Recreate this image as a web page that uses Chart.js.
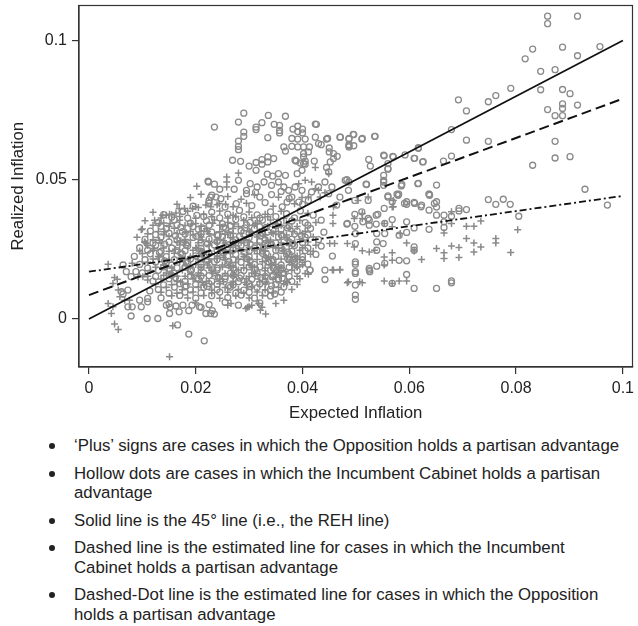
<!DOCTYPE html>
<html lang="en">
  <head>
    <meta charset="UTF-8" />
    <title>Expected vs Realized Inflation</title>
    <script src="https://cdn.jsdelivr.net/npm/chart.js"></script>
    <style>
      body { margin: 0; background: #fff; font-family: "Liberation Sans", Arial, sans-serif; color: #222; }
      #wrap { width: 638px; }
      canvas { display: block; }
      ul { list-style: none; margin: 8px 0 0 0; padding: 0; font-size: 16.8px; line-height: 19.5px; white-space: nowrap; }
      li { position: relative; padding-left: 74px; margin-bottom: 8px; }
      li::before { content: ""; position: absolute; left: 49px; top: 7px; width: 6px; height: 6px; border-radius: 50%; background: #222; }
    </style>
  </head>
  <body>
    <div id="wrap">
      <canvas id="chart" width="638" height="428"></canvas>
      <ul>
        <li>‘Plus’ signs are cases in which the Opposition holds a partisan advantage</li>
        <li>Hollow dots are cases in which the Incumbent Cabinet holds a partisan<br>advantage</li>
        <li>Solid line is the 45° line (i.e., the REH line)</li>
        <li>Dashed line is the estimated line for cases in which the Incumbent<br>Cabinet holds a partisan advantage</li>
        <li>Dashed-Dot line is the estimated line for cases in which the Opposition<br>holds a partisan advantage</li>
      </ul>
    </div>

    <script>
      // axis ticks
      const xTicks = [0, 0.02, 0.04, 0.06, 0.08, 0.1];
      const yTicks = [0, 0.05, 0.1];

      // fitted lines, endpoints at x = 0 and x = 0.1
      const lineX = [0, 0.1];
      const rehY = [0, 0.1];
      const incumbentFitY = [0.0086, 0.0791];
      const oppositionFitY = [0.017, 0.0442];

      // Opposition advantage ('plus'), [expected %, realized %]
      const plusPts = [
        // main cloud
        [1.9,4.36],[2.1,4.48],[2.6,4.4],[2.85,4.3],[3.1,4.46],[3.55,4.37],
        [1.65,4.12],[2.05,4.0],[2.4,4.1],[2.7,4.03],[2.95,4.16],[3.45,4.05],[3.85,4.14],
        [1.2,3.83],[1.55,3.74],[1.85,3.87],[2.15,3.76],[2.45,3.88],[2.7,3.73],[3.0,3.84],[3.3,3.76],[3.6,3.87],[4.1,3.8],
        [1.05,3.53],[1.4,3.45],[1.7,3.55],[2.0,3.43],[2.35,3.56],[2.6,3.47],[2.9,3.54],[3.15,3.44],[3.4,3.56],[3.7,3.45],[3.95,3.54],[4.25,3.47],
        [1.0,3.23],[1.3,3.14],[1.6,3.26],[1.9,3.15],[2.2,3.24],[2.45,3.13],[2.7,3.25],[3.0,3.15],[3.25,3.23],[3.5,3.14],[3.75,3.26],[4.05,3.15],
        [0.9,2.94],[1.2,2.85],[1.5,2.96],[1.8,2.86],[2.1,2.95],[2.4,2.84],[2.65,2.93],[2.9,2.86],[3.15,2.95],[3.4,2.84],[3.7,2.93],[3.95,2.86],[4.2,2.95],
        [1.1,2.64],[1.4,2.55],[1.7,2.66],[2.0,2.56],[2.25,2.65],[2.5,2.54],[2.75,2.63],[3.0,2.56],[3.25,2.66],[3.5,2.55],[3.75,2.64],[4.0,2.56],[4.25,2.65],
        [1.0,2.35],[1.3,2.25],[1.6,2.36],[1.9,2.24],[2.15,2.33],[2.4,2.26],[2.65,2.35],[2.9,2.25],[3.15,2.34],[3.4,2.24],[3.65,2.36],[3.9,2.26],[4.15,2.33],
        [1.1,2.04],[1.4,1.95],[1.7,2.06],[2.0,1.96],[2.25,2.05],[2.5,1.94],[2.75,2.03],[3.0,1.95],[3.25,2.06],[3.5,1.96],[3.75,2.04],[4.0,1.95],
        [1.15,1.74],[1.45,1.65],[1.75,1.76],[2.05,1.65],[2.3,1.74],[2.55,1.64],[2.8,1.76],[3.05,1.65],[3.3,1.73],[3.55,1.66],[3.8,1.75],[4.05,1.64],
        [1.35,1.44],[1.65,1.35],[1.95,1.46],[2.2,1.35],[2.45,1.44],[2.7,1.36],[2.95,1.45],[3.2,1.34],[3.45,1.43],[3.7,1.36],[3.95,1.45],
        [1.45,1.14],[1.75,1.05],[2.05,1.15],[2.3,1.04],[2.55,1.13],[2.8,1.06],[3.05,1.15],[3.3,1.05],[3.55,1.14],[3.8,1.06],
        [1.55,0.84],[1.85,0.76],[2.15,0.85],[2.45,0.75],[2.75,0.84],[3.0,0.76],[3.25,0.85],
        [2.0,0.58],[2.6,0.5],[3.5,0.56],
        [2.1,3.04],[2.7,3.07],[3.3,3.02],[1.8,2.76],[2.4,2.73],[3.0,2.77],[3.6,2.74],
        [2.1,2.44],[2.7,2.46],[3.3,2.43],[1.8,2.14],[2.4,2.17],[3.0,2.13],[3.6,2.16],
        [2.1,1.84],[2.7,1.87],[3.3,1.83],[1.8,1.54],[2.4,1.56],[3.0,1.53],[3.6,1.55],[2.7,1.24],[3.3,1.26],
        // denser core
        [1.35,3.63],[1.7,3.68],[2.0,3.62],[2.3,3.67],[2.6,3.63],[2.75,3.68],[3.05,3.64],[3.35,3.67],[3.65,3.62],
        [1.2,3.37],[1.5,3.32],[1.8,3.36],[2.1,3.33],[2.45,3.37],[2.8,3.32],[3.1,3.37],[3.35,3.33],[3.6,3.37],[3.9,3.32],
        [1.1,3.06],[1.4,3.03],[1.65,3.07],[1.95,3.02],[2.25,3.06],[2.55,3.04],[2.85,3.07],[3.15,3.03],[3.45,3.06],[3.7,3.02],[4.0,3.06],
        [1.05,2.76],[1.35,2.73],[1.65,2.77],[2.05,2.74],[2.25,2.78],[2.55,2.73],[2.85,2.76],[3.15,2.73],[3.4,2.77],[3.85,2.74],[4.1,2.77],
        [0.95,2.44],[1.2,2.47],[1.5,2.43],[1.95,2.47],[2.25,2.44],[2.55,2.46],[2.85,2.43],[3.1,2.47],[3.65,2.44],[3.95,2.47],[4.2,2.43],
        [1.2,2.16],[1.5,2.13],[1.75,2.17],[2.05,2.13],[2.25,2.16],[2.55,2.13],[2.8,2.16],[3.15,2.14],[3.35,2.17],[3.9,2.14],
        [1.25,1.86],[1.55,1.83],[1.9,1.87],[2.25,1.84],[2.5,1.87],[2.9,1.84],[3.1,1.86],[3.6,1.83],[3.9,1.87],
        [1.1,1.54],[1.4,1.57],[1.65,1.54],[2.05,1.57],[2.7,1.54],[3.3,1.57],[3.9,1.54],
        [1.25,1.26],[1.55,1.23],[1.85,1.26],[2.15,1.23],[2.45,1.27],[2.95,1.24],[3.65,1.27],[3.9,1.24],
        [1.35,0.96],[1.65,0.93],[1.95,0.97],[2.3,0.94],[2.6,0.96],[2.9,0.93],[3.15,0.97],[3.45,0.94],
        [1.52,3.43],[1.92,3.41],[2.32,3.44],[2.72,3.41],[3.12,3.43],[3.52,3.41],
        [1.42,3.13],[1.82,3.11],[2.22,3.14],[2.62,3.11],[3.02,3.13],[3.42,3.11],[3.82,3.14],
        [1.32,2.83],[1.72,2.81],[2.12,2.84],[2.52,2.81],[2.92,2.83],[3.32,2.81],[3.72,2.84],
        [1.22,2.53],[1.62,2.51],[2.02,2.54],[2.42,2.51],[2.82,2.53],[3.22,2.51],[3.62,2.54],
        [1.32,2.23],[1.72,2.21],[2.12,2.24],[2.52,2.21],[2.92,2.23],[3.32,2.21],[3.72,2.24],
        [1.42,1.93],[1.82,1.91],[2.22,1.94],[2.62,1.91],[3.02,1.93],[3.42,1.91],[3.82,1.94],
        [1.52,1.63],[1.92,1.61],[2.32,1.64],[2.72,1.61],[3.12,1.63],[3.52,1.61],
        [1.72,1.33],[2.12,1.31],[2.52,1.34],[2.92,1.31],[3.32,1.33],[3.72,1.31],
        // left and lower fringe
        [0.98,3.21],[0.36,1.97],[0.48,1.49],[0.81,2.0],[0.36,0.56],[0.42,0.2],[0.48,-0.18],[0.55,-0.37],
        [1.51,-1.35],[1.57,-0.24],[1.23,3.55],[1.32,3.43],[1.38,3.73],[1.45,3.73],[1.51,3.76],[1.63,3.81],
        [1.69,3.97],[1.79,3.97],[1.94,3.97],[2.0,4.03],[1.04,2.77],[1.07,2.71],[2.19,4.09],[2.28,4.03],
        [2.44,4.15],[2.56,4.12],[0.53,1.43],[0.45,1.28],[0.55,1.04],[0.58,0.8],[0.67,0.68],[0.76,0.68],
        [0.92,1.52],[1.01,1.52],[1.1,1.4],[0.45,0.44],
        [2.97,0.42],[3.05,0.5],[3.18,0.56],[3.24,0.42],[3.21,0.32],[3.31,0.18],[3.0,0.44],[2.94,0.38],
        [2.66,0.56],[3.65,0.68],[4.11,1.61],[3.9,1.87],[3.68,1.7],[3.86,2.23],[4.7,1.76],[4.58,1.76],
        [4.86,1.34],[5.07,1.34],
        // upper part
        [2.02,4.77],[2.58,5.1],[2.58,4.92],[2.58,4.74],[2.8,5.24],[3.93,4.86],[4.05,4.98],[4.17,4.92],
        [4.24,4.68],[4.3,4.62],[3.99,4.36],[4.11,4.38],[4.33,4.38],[4.42,4.53],[4.49,5.22],[4.58,4.03],
        [5.04,4.26],[5.23,4.38],[5.7,4.26],[5.7,4.03],[4.24,5.44],
        // right part
        [8.03,3.21],[7.9,2.39],[7.62,2.89],[7.62,2.73],[7.34,3.52],[7.21,3.33],[7.07,3.33],[7.07,2.89],
        [7.21,2.73],[7.34,2.59],[7.21,2.41],[6.93,2.57],[6.93,2.21],[6.79,2.62],[6.79,3.43],[6.79,3.85],
        [6.65,2.38],[6.65,2.17],[6.51,2.53],[6.65,3.09],[6.23,2.14],[6.09,2.44],[5.95,2.73],[5.95,1.37],
        [5.81,1.37],[5.68,1.28],[5.53,1.37],[5.68,2.11],[5.68,2.38],[5.53,1.94],[5.53,2.23],[5.25,2.41],
        [5.12,2.45],[4.97,2.59],[4.84,2.71],[4.84,1.3],[5.12,1.3],[4.7,1.78],[4.56,1.76],[5.53,3.43],
        [5.68,3.31],[5.68,4.02],[5.83,3.07],[5.12,3.79],[5.12,3.61],[4.97,3.61],[4.57,3.73],[4.57,3.43],
        [4.51,2.71],[4.6,2.71],[5.35,2.47]
      ];

      // Incumbent Cabinet advantage (hollow dots), [expected %, realized %]
      const dotPts = [
        // main cloud
        [2.3,4.45],[2.47,4.32],[2.95,4.5],[3.2,4.38],[3.42,4.47],[3.75,4.33],
        [1.95,4.05],[2.25,4.16],[2.55,4.02],[2.76,4.14],[3.05,4.07],[3.3,4.18],[3.62,4.03],[4.0,4.12],
        [1.4,3.75],[1.76,3.86],[2.02,3.72],[2.3,3.84],[2.6,3.77],[2.82,3.9],[3.15,3.74],[3.4,3.85],[3.7,3.78],[3.96,3.88],[4.2,3.73],
        [1.3,3.46],[1.6,3.56],[1.9,3.44],[2.2,3.53],[2.5,3.42],[2.75,3.57],[3.02,3.47],[3.25,3.55],[3.55,3.43],[3.8,3.52],[4.05,3.46],[4.35,3.55],
        [1.15,3.16],[1.45,3.25],[1.75,3.14],[2.05,3.22],[2.3,3.12],[2.56,3.26],[2.85,3.17],[3.1,3.24],[3.35,3.13],[3.6,3.22],[3.9,3.16],[4.15,3.25],[4.4,3.12],
        [1.05,2.86],[1.35,2.95],[1.65,2.84],[1.95,2.93],[2.25,2.87],[2.5,2.96],[2.75,2.84],[3.0,2.92],[3.3,2.85],[3.55,2.95],[3.8,2.87],[4.05,2.94],[4.3,2.85],
        [0.95,2.56],[1.25,2.65],[1.55,2.55],[1.85,2.63],[2.1,2.54],[2.35,2.66],[2.6,2.57],[2.85,2.64],[3.1,2.55],[3.35,2.65],[3.6,2.56],[3.85,2.64],[4.1,2.55],[4.35,2.62],
        [0.85,2.25],[1.15,2.34],[1.45,2.24],[1.75,2.33],[2.0,2.27],[2.25,2.35],[2.5,2.24],[2.75,2.32],[3.0,2.26],[3.25,2.36],[3.5,2.25],[3.75,2.33],[4.0,2.24],[4.25,2.32],
        [0.95,1.96],[1.25,2.05],[1.55,1.94],[1.85,2.03],[2.1,1.97],[2.35,2.06],[2.6,1.95],[2.85,2.04],[3.1,1.96],[3.35,2.05],[3.6,1.94],[3.85,2.03],[4.1,1.97],
        [1.0,1.66],[1.3,1.75],[1.6,1.64],[1.9,1.73],[2.15,1.66],[2.4,1.76],[2.65,1.65],[2.9,1.74],[3.15,1.66],[3.4,1.75],[3.65,1.64],[3.9,1.73],
        [1.2,1.36],[1.5,1.45],[1.8,1.35],[2.05,1.44],[2.3,1.36],[2.55,1.45],[2.8,1.34],[3.05,1.43],[3.3,1.36],[3.55,1.45],[3.8,1.35],
        [1.3,1.06],[1.6,1.15],[1.9,1.05],[2.15,1.14],[2.4,1.06],[2.65,1.15],[2.9,1.04],[3.15,1.13],[3.4,1.06],[3.65,1.15],
        [1.35,0.76],[1.7,0.85],[2.0,0.75],[2.3,0.84],[2.6,0.77],[2.85,0.86],[3.1,0.75],[3.4,0.83],
        [1.5,0.55],[2.25,0.52],[2.55,0.6],[2.8,0.5],[3.2,0.58],
        [1.8,3.05],[2.4,3.02],[3.0,3.07],[3.6,3.03],[2.1,2.74],[2.7,2.77],[3.3,2.72],
        [1.8,2.45],[2.4,2.47],[3.0,2.43],[3.6,2.46],[2.1,2.16],[2.7,2.13],[3.3,2.17],
        [1.8,1.86],[2.4,1.83],[3.0,1.87],[3.6,1.84],[2.1,1.55],[2.7,1.57],[3.3,1.53],[2.4,1.25],[3.0,1.27],
        // denser core
        [1.55,3.66],[1.85,3.62],[2.15,3.68],[2.45,3.63],[2.9,3.67],[3.2,3.62],[3.5,3.68],[3.85,3.63],
        [1.35,3.33],[1.65,3.38],[1.95,3.32],[2.25,3.37],[2.65,3.34],[2.95,3.38],[3.2,3.31],[3.5,3.36],[3.75,3.33],[4.1,3.37],
        [1.25,3.03],[1.5,3.08],[2.1,3.06],[2.65,3.02],[3.25,3.08],[3.85,3.05],[4.1,3.02],
        [1.2,2.73],[1.5,2.77],[1.85,2.74],[2.4,2.78],[2.95,2.74],[3.2,2.78],[3.5,2.73],[3.75,2.77],[4.0,2.74],
        [1.1,2.47],[1.35,2.43],[1.65,2.46],[2.1,2.43],[2.7,2.48],[3.25,2.44],[3.5,2.47],[3.8,2.43],[4.05,2.46],
        [1.05,2.13],[1.35,2.17],[1.6,2.13],[1.9,2.16],[2.4,2.14],[2.95,2.17],[3.45,2.13],[3.75,2.16],[4.0,2.13],
        [1.1,1.83],[1.4,1.87],[1.65,1.84],[2.1,1.86],[2.7,1.83],[3.2,1.87],[3.45,1.84],[3.75,1.86],
        [1.25,1.53],[1.55,1.57],[1.9,1.54],[2.25,1.56],[2.55,1.53],[2.85,1.57],[3.15,1.54],[3.45,1.57],[3.75,1.53],
        [1.4,1.23],[1.7,1.27],[2.0,1.24],[2.25,1.27],[2.7,1.23],[3.2,1.26],[3.5,1.24],
        [1.5,0.93],[1.8,0.97],[2.1,0.94],[2.45,0.97],[2.75,0.93],[3.0,0.96],[3.3,0.94],[3.6,0.97],
        [1.72,3.29],[2.12,3.27],[2.52,3.3],[2.92,3.27],[3.32,3.29],[3.72,3.27],
        [1.62,2.99],[2.02,2.97],[2.42,3.0],[2.82,2.97],[3.22,2.99],[3.62,2.97],[3.98,2.99],
        [1.42,2.69],[1.82,2.67],[2.22,2.7],[2.62,2.67],[3.02,2.69],[3.42,2.67],[3.82,2.7],
        [1.32,2.39],[1.72,2.37],[2.12,2.4],[2.52,2.37],[2.92,2.39],[3.32,2.37],[3.72,2.4],
        [1.42,2.09],[1.82,2.07],[2.22,2.1],[2.62,2.07],[3.02,2.09],[3.42,2.07],[3.82,2.1],
        [1.52,1.79],[1.92,1.77],[2.32,1.8],[2.72,1.77],[3.12,1.79],[3.52,1.77],
        [1.62,1.49],[2.02,1.47],[2.42,1.5],[2.82,1.47],[3.22,1.49],[3.62,1.47],
        [1.82,1.19],[2.22,1.17],[2.62,1.2],[3.02,1.17],[3.42,1.19],
        // left and lower fringe
        [0.79,0.11],[1.09,0.02],[1.29,0.02],[1.87,-0.54],[2.16,-0.78],[0.73,0.44],[0.81,0.44],[0.98,0.44],
        [1.1,0.74],[1.45,0.5],[1.52,0.42],[1.63,0.47],[1.76,0.5],[1.93,0.5],[2.1,0.42],[2.19,0.2],
        [2.31,0.3],[2.35,0.18],[1.87,0.3],[1.66,-0.21],[3.48,0.9],[1.1,0.62],[0.64,1.94],[0.7,1.7],
        [0.79,1.52],[0.88,1.7],[0.61,0.98],[0.64,0.9],[0.73,1.04],[1.14,1.01],[0.95,0.68],[1.51,0.2],
        [1.69,0.26],[2.28,0.2],[2.07,0.44],[3.55,1.4],[3.43,1.52],[4.14,1.76],[3.99,2.0],[3.86,2.17],
        [3.72,2.17],[3.59,1.78],[3.46,1.82],[3.37,2.05],
        // upper cluster
        [2.35,6.89],[2.9,7.39],[2.8,7.07],[3.36,7.31],[3.68,7.28],[3.24,7.05],[3.13,6.89],[3.13,6.8],
        [3.47,6.99],[3.57,6.95],[3.57,6.77],[3.57,6.68],[2.9,6.71],[2.9,6.56],[3.35,6.51],[2.8,6.39],
        [2.8,6.2],[2.8,6.08],[4.24,7.0],[3.91,6.92],[3.82,6.82],[4.0,6.82],[3.91,6.73],[4.0,6.68],
        [4.7,6.53],[4.95,6.63],[4.87,6.46],[5.11,6.46],[5.35,6.56],[4.24,6.53],[3.8,6.48],[3.91,6.46],
        [4.05,6.46],[4.45,6.46],[4.3,6.3],[4.35,6.26],[4.87,6.26],[4.87,6.18],[3.65,6.18],[3.68,6.03],
        [3.8,6.2],[3.91,6.18],[4.02,6.18],[4.13,6.18],[4.5,6.14],[4.5,6.0],[4.58,5.94],[4.65,5.84],
        [4.58,5.76],[4.02,5.94],[4.11,6.0],[4.02,5.82],[4.05,5.67],[4.02,5.58],[3.88,5.67],[4.22,5.67],
        [4.52,5.64],[4.45,5.44],[4.49,5.28],[5.24,5.73],[5.53,5.86],[5.7,5.82],[5.6,5.38],[6.1,5.77],
        [6.26,5.65],[6.17,6.15],[2.69,5.7],[2.84,5.66],[3.0,5.49],[3.13,5.62],[3.24,5.72],[3.35,5.82],
        [3.46,5.76],[3.35,5.64],[3.24,5.56],[3.13,5.34],[3.86,5.7],[3.96,5.6],[4.05,5.56],[3.99,5.34],
        [3.9,5.22],[3.34,5.2],[3.44,5.13],[3.55,5.22],[2.23,4.95],[2.35,4.84],[2.45,4.66],[2.72,4.66],
        [2.8,4.98],[2.28,4.38],[2.25,4.26],[2.38,4.38],[2.24,4.92],[5.52,5.16],[5.52,4.98],[4.83,5.0],
        [4.87,4.92],[5.2,4.83],[5.85,4.78],[6.16,4.86],[3.55,4.92],[3.68,5.16],[3.65,4.74],[3.74,4.62],
        [3.86,4.74],[3.99,4.62],[3.8,4.38],[3.71,4.2],[3.93,4.2],[4.11,4.26],[4.17,4.56],[4.3,4.74],
        [4.42,4.92],[4.55,4.74],[4.49,4.5],[4.7,4.38],[4.64,4.09],[4.86,4.62],[4.8,4.98],[4.98,4.26],
        [5.23,4.26],[5.6,4.38],[5.79,4.44],[6.38,4.44],[5.91,4.15],[6.1,4.15],[6.22,4.03],[6.47,4.15],
        [3.02,4.86],[3.15,4.74],[3.28,4.92],[3.42,4.8],[2.95,4.62],[3.12,4.55],[3.6,4.58],
        [4.83,3.41],[4.98,3.76],[5.11,3.85],[4.98,3.33],[5.23,3.61],[5.38,3.73],[5.38,3.41],[5.54,3.43],
        [5.54,3.07],[5.51,2.71],
        // right part
        [8.59,10.87],[8.59,10.6],[9.15,10.87],[9.57,9.78],[8.87,9.76],[8.31,9.69],[8.17,9.34],[9.15,9.45],
        [8.46,8.89],[8.73,8.95],[8.46,8.23],[8.87,8.24],[9.01,8.09],[8.87,7.72],[8.87,7.56],[9.15,7.68],
        [8.59,7.52],[8.73,7.3],[8.87,7.3],[8.73,6.38],[8.73,5.78],[9.01,5.83],[8.31,5.52],[9.29,4.66],
        [7.9,8.28],[7.62,8.02],[7.48,7.8],[6.92,7.87],[7.07,7.47],[7.07,6.42],[7.48,6.38],[6.79,6.8],
        [6.79,5.85],[6.64,5.67],[6.17,6.13],[5.92,5.89],[6.09,5.77],[6.25,5.64],[5.69,5.84],[5.52,5.88],
        [5.6,5.58],[5.6,5.4],[5.52,4.92],[5.52,4.8],[5.86,4.83],[6.17,4.87],[6.51,4.81],[6.37,4.48],
        [5.77,4.48],[5.36,6.56],[5.27,5.49],[5.19,4.84],[5.12,6.48],[4.96,6.62],[4.87,6.48],[4.87,6.22],
        [4.96,6.22],[4.71,6.53],[4.47,6.48],[4.26,6.99],[9.71,4.09],
        [8.05,3.69],[7.89,4.12],[7.76,4.3],[7.62,4.12],[7.48,4.29],[7.07,3.93],[6.93,3.97],[6.93,3.88],
        [6.79,3.69],[6.65,3.73],[6.65,3.49],[6.65,3.29],[6.51,3.73],[6.51,4.02],[6.37,3.91],[6.37,3.22],
        [6.23,4.09],[6.09,4.19],[5.95,4.21],[5.95,4.12],[5.8,4.48],[5.68,4.21],[5.6,4.42],[6.37,4.48],
        [6.51,4.21],[6.09,3.27],[5.95,3.49],[5.95,3.11],[5.81,3.01],[5.39,3.07],[5.39,2.77],[5.39,2.47],
        [5.25,3.55],[5.25,3.37],[5.25,1.76],[5.25,1.82],[4.99,3.07],[4.99,2.71],[4.99,2.05],[4.99,1.97],
        [4.99,1.7],[4.99,1.64],[4.99,1.22],[4.99,0.86],[4.99,0.71],[4.84,3.43],[4.56,2.26],[4.42,1.76],
        [4.42,1.42],[5.95,2.09],[5.95,1.6],[5.81,2.11],[6.09,2.59],[6.09,2.47],[6.09,1.1],[6.51,1.1],
        [6.79,1.37],[6.79,1.3],[5.39,1.9],[5.68,3.57],[5.68,1.28],[5.53,3.97],[5.41,3.76],[5.13,3.49],
        [5.26,1.7],[5.54,2.0],[4.14,1.76]
      ];

      const toXY = (pts) => pts.map(([x, y]) => ({ x: x / 100, y: y / 100 }));
      const toLine = (ys) => lineX.map((x, i) => ({ x: x, y: ys[i] }));

      // box round the plot area (top and right sides)
      const frame = {
        id: "frame",
        afterDraw(chart) {
          const { ctx, chartArea: a } = chart;
          ctx.save();
          ctx.strokeStyle = "#333";
          ctx.lineWidth = 1.2;
          ctx.strokeRect(a.left, a.top, a.right - a.left, a.bottom - a.top);
          ctx.restore();
        },
      };

      const ink = "#222";
      const markGrey = "#8a8a8a";
      const axisGrid = { display: true, drawOnChartArea: false, drawTicks: true, tickLength: 7, color: "#333", lineWidth: 1.2 };

      new Chart(document.getElementById("chart"), {
        type: "scatter",
        data: {
          datasets: [
            { data: toLine(rehY), showLine: true, borderColor: "#111", borderWidth: 1.8, pointRadius: 0, order: 0 },
            { data: toLine(incumbentFitY), showLine: true, borderColor: "#111", borderWidth: 2, borderDash: [10, 5], pointRadius: 0, order: 0 },
            { data: toLine(oppositionFitY), showLine: true, borderColor: "#111", borderWidth: 1.8, borderDash: [7, 3, 2, 3], pointRadius: 0, order: 0 },
            { data: toXY(dotPts), pointStyle: "circle", pointRadius: 3, borderWidth: 1.3, borderColor: markGrey, backgroundColor: "rgba(0,0,0,0)", order: 1 },
            { data: toXY(plusPts), pointStyle: "cross", pointRadius: 3.5, borderWidth: 1.5, borderColor: markGrey, order: 2 },
          ],
        },
        options: {
          responsive: false,
          animation: false,
          layout: { padding: { top: 5, right: 2, left: 0, bottom: 0 } },
          plugins: { legend: { display: false }, tooltip: { enabled: false } },
          scales: {
            x: {
              min: -0.00186,
              max: 0.1018,
              afterFit: (s) => { s.height = 61; s.paddingLeft = 0; s.paddingRight = 0; },
              afterBuildTicks: (s) => { s.ticks = xTicks.map((v) => ({ value: v })); },
              ticks: { color: ink, padding: 5, font: { family: "Liberation Sans", size: 16 }, callback: (v) => String(v) },
              grid: axisGrid,
              border: { display: true, color: "#333", width: 1.2 },
              title: { display: true, text: "Expected Inflation", color: ink, padding: { top: 5, bottom: 5 }, font: { family: "Liberation Sans", size: 16.8 } },
            },
            y: {
              min: -0.0172,
              max: 0.11254,
              afterFit: (s) => { s.width = 79; s.paddingTop = 0; s.paddingBottom = 0; },
              afterBuildTicks: (s) => { s.ticks = yTicks.map((v) => ({ value: v })); },
              ticks: { color: ink, padding: 5, font: { family: "Liberation Sans", size: 16 }, callback: (v) => String(v) },
              grid: axisGrid,
              border: { display: true, color: "#333", width: 1.2 },
              title: { display: true, text: "Realized Inflation", color: ink, padding: { top: 8, bottom: 8 }, font: { family: "Liberation Sans", size: 16.8 } },
            },
          },
        },
        plugins: [frame],
      });
    </script>
  </body>
</html>
